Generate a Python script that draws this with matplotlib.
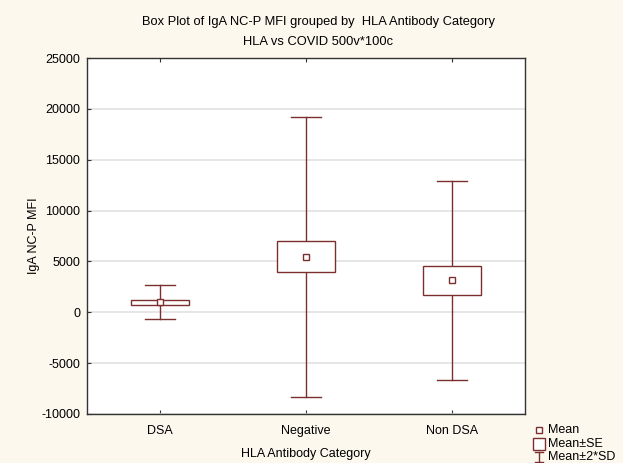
import matplotlib
matplotlib.use("Agg")
import matplotlib.pyplot as plt
from matplotlib.patches import Rectangle
from matplotlib.lines import Line2D
import numpy as np

categories = ["DSA", "Negative", "Non DSA"]
means = [1000, 5450, 3150]
se = [250, 1520, 1430]
sd = [845, 6880, 4890]
yticks = [-10000, -5000, 0, 5000, 10000, 15000, 20000, 25000]

plt.rcParams['font.family'] = ['Liberation Sans', 'DejaVu Sans']
col = '#7d2e2e'
bg = '#fcf8ee'
fs = 9

fig = plt.figure(figsize=(6.23, 4.63), dpi=100, facecolor=bg)
L, R, T, B = 87, 525, 58, 414
ax = fig.add_axes([L/623, 1-B/463, (R-L)/623, (B-T)/463])
ax.set_facecolor('white')

x = np.arange(1, len(categories)+1)
bw = 0.4
cw = 0.2
for xi, m, s, d in zip(x, means, se, sd):
    ax.plot([xi, xi], [m-2*d, m+2*d], color=col, lw=1, zorder=3)
    ax.plot([xi-cw/2, xi+cw/2], [m+2*d, m+2*d], color=col, lw=1, zorder=3)
    ax.plot([xi-cw/2, xi+cw/2], [m-2*d, m-2*d], color=col, lw=1, zorder=3)
    ax.add_patch(Rectangle((xi-bw/2, m-s), bw, 2*s, facecolor='white', edgecolor=col, lw=1, zorder=4))
    ax.plot([xi], [m], marker='s', ms=5, mfc='white', mec=col, mew=1, zorder=5)

ax.set_xlim(0.5, 3.5)
ax.set_ylim(-10000, 25000)
ax.set_yticks(yticks)
ax.set_yticklabels([str(v) for v in yticks])
ax.set_xticks(x)
ax.set_xticklabels(categories)
ax.yaxis.grid(True, color='#e2e2e2', lw=1.2)
ax.set_axisbelow(True)
ax.tick_params(axis='both', direction='in', length=3, labelsize=fs, colors='#333333', labelcolor='black')
ax.tick_params(axis='x', top=True, pad=8)
ax.tick_params(axis='y', pad=5)
for sp in ax.spines.values():
    sp.set_color('#333333')
    sp.set_linewidth(1)

ax.set_xlabel('HLA Antibody Category', fontsize=fs, labelpad=8)
ax.set_ylabel('IgA NC-P MFI', fontsize=fs)
ax.yaxis.set_label_coords((40-L)/(R-L), 0.5)
fig.text(318/623, 1-22/463, 'Box Plot of IgA NC-P MFI grouped by  HLA Antibody Category', ha='center', va='center', fontsize=9.25)
fig.text(318/623, 1-42/463, 'HLA vs COVID 500v*100c', ha='center', va='center', fontsize=9.25)

# legend
def fx(px): return px/623
def fy(py): return 1-py/463
fig.add_artist(Line2D([fx(539)], [fy(430)], marker='s', ms=4, mfc='white', mec=col, mew=1, transform=fig.transFigure))
fig.text(fx(548), fy(430), 'Mean', va='center', fontsize=fs)
fig.add_artist(Rectangle((fx(533), fy(450)), 12/623, 12/463, facecolor='white', edgecolor=col, lw=1, transform=fig.transFigure))
fig.text(fx(548), fy(444), 'Mean±SE', va='center', fontsize=fs)
fig.add_artist(Line2D([fx(539), fx(539)], [fy(452), fy(462)], color=col, lw=1, transform=fig.transFigure))
fig.add_artist(Line2D([fx(535), fx(543)], [fy(452), fy(452)], color=col, lw=1, transform=fig.transFigure))
fig.add_artist(Line2D([fx(535), fx(543)], [fy(462), fy(462)], color=col, lw=1, transform=fig.transFigure))
fig.text(fx(548), fy(457), 'Mean±2*SD', va='center', fontsize=fs)

fig.savefig('out.png', dpi=100, facecolor=bg)
